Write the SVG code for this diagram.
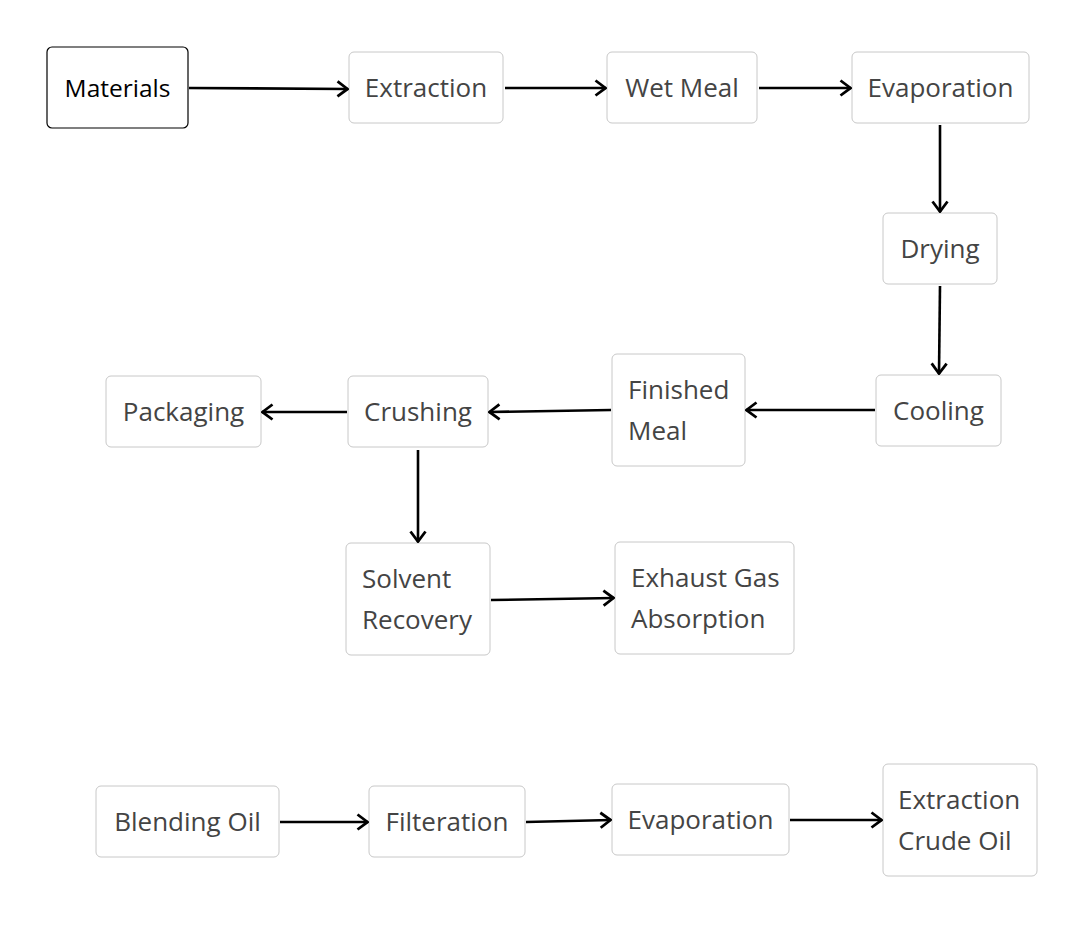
<svg xmlns="http://www.w3.org/2000/svg" width="1089" height="927" viewBox="0 0 1089 927">
<style>
.n rect{fill:#fff;stroke:#c8c8c8;stroke-width:1}
.n text{font-family:"Open Sans","Noto Sans",sans-serif;font-size:26px;fill:#444}
.m rect{fill:#fff;stroke:#000;stroke-width:1.2}
.m text{font-family:"Open Sans","Noto Sans",sans-serif;font-size:24.5px;fill:#000}
.c line{stroke:#000;stroke-width:2.6;marker-end:url(#a)}
</style>
<defs>
<marker id="a" markerUnits="userSpaceOnUse" viewBox="0 0 13 18" refX="12" refY="9" markerWidth="13" markerHeight="18" orient="auto">
<path d="M1.5,1.5 L11.5,9 L1.5,16.5" fill="none" stroke="#000" stroke-width="2.8"/>
</marker>
</defs>
<rect width="1089" height="927" fill="#fff"/>
<g id="materials" class="m"><rect x="47" y="47" width="141" height="81" rx="5"/><text x="117.5" y="97" text-anchor="middle">Materials</text></g>
<g id="extraction" class="n"><rect x="349" y="52" width="154" height="71" rx="5"/><text x="426" y="97" text-anchor="middle">Extraction</text></g>
<g id="wetmeal" class="n"><rect x="607" y="52" width="150" height="71" rx="5"/><text x="682" y="97" text-anchor="middle">Wet Meal</text></g>
<g id="evaporation1" class="n"><rect x="852" y="52" width="177" height="71" rx="5"/><text x="940.5" y="97" text-anchor="middle">Evaporation</text></g>
<g id="drying" class="n"><rect x="883" y="213" width="114" height="71" rx="5"/><text x="940" y="258" text-anchor="middle">Drying</text></g>
<g id="cooling" class="n"><rect x="876" y="375" width="125" height="71" rx="5"/><text x="938.5" y="420" text-anchor="middle">Cooling</text></g>
<g id="finishedmeal" class="n"><rect x="612" y="354" width="133" height="112" rx="5"/><text x="628" y="399">Finished</text><text x="628" y="440">Meal</text></g>
<g id="crushing" class="n"><rect x="348" y="376" width="140" height="71" rx="5"/><text x="418" y="421" text-anchor="middle">Crushing</text></g>
<g id="packaging" class="n"><rect x="106" y="376" width="155" height="71" rx="5"/><text x="183.5" y="421" text-anchor="middle">Packaging</text></g>
<g id="solventrecovery" class="n"><rect x="346" y="543" width="144" height="112" rx="5"/><text x="362" y="588">Solvent</text><text x="362" y="629">Recovery</text></g>
<g id="exhaustgas" class="n"><rect x="615" y="542" width="179" height="112" rx="5"/><text x="631" y="587">Exhaust Gas</text><text x="631" y="628">Absorption</text></g>
<g id="blendingoil" class="n"><rect x="96" y="786" width="183" height="71" rx="5"/><text x="187.5" y="831" text-anchor="middle">Blending Oil</text></g>
<g id="filteration" class="n"><rect x="369" y="786" width="156" height="71" rx="5"/><text x="447" y="831" text-anchor="middle">Filteration</text></g>
<g id="evaporation2" class="n"><rect x="612" y="784" width="177" height="71" rx="5"/><text x="700.5" y="829" text-anchor="middle">Evaporation</text></g>
<g id="crudeoil" class="n"><rect x="883" y="764" width="154" height="112" rx="5"/><text x="898" y="809">Extraction</text><text x="898" y="850">Crude Oil</text></g>
<g id="connectors" class="c">
<line x1="189" y1="88" x2="348" y2="89"/>
<line x1="505" y1="88" x2="606" y2="88"/>
<line x1="759" y1="88" x2="851" y2="88"/>
<line x1="940" y1="125" x2="940" y2="212"/>
<line x1="940" y1="286" x2="939" y2="374"/>
<line x1="875" y1="410" x2="746" y2="410"/>
<line x1="611" y1="410" x2="489" y2="412"/>
<line x1="347" y1="412" x2="262" y2="412"/>
<line x1="418" y1="450" x2="418" y2="542"/>
<line x1="491" y1="600" x2="614" y2="598"/>
<line x1="280" y1="822" x2="368" y2="822"/>
<line x1="526" y1="822" x2="611" y2="820"/>
<line x1="790" y1="820" x2="882" y2="820"/>
</g>
</svg>
